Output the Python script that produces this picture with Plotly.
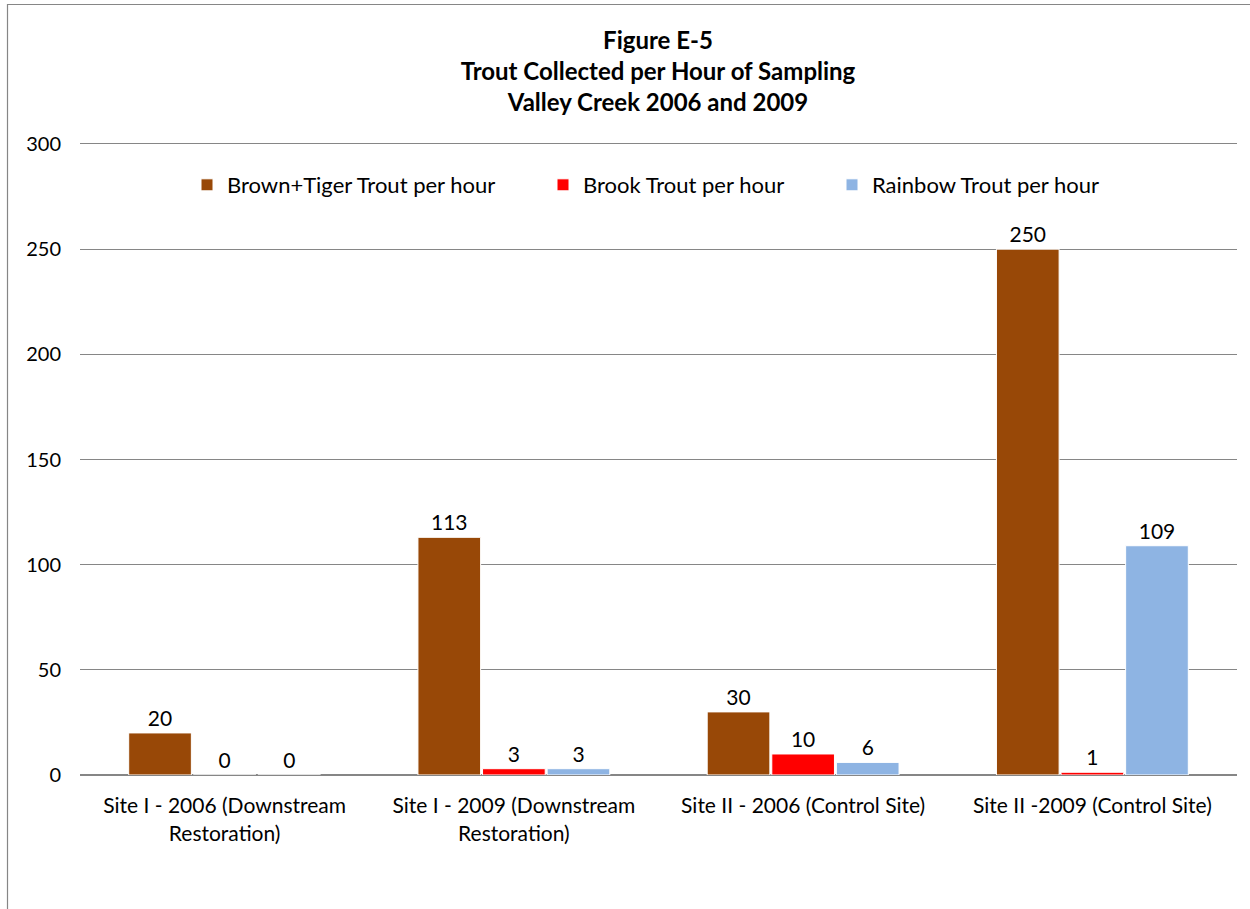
import plotly.graph_objects as go

categories = ["Site I - 2006 (Downstream<br>Restoration)",
              "Site I - 2009 (Downstream<br>Restoration)",
              "Site II - 2006 (Control Site)",
              "Site II -2009 (Control Site)"]
brown_tiger = [20, 113, 30, 250]
brook = [0, 3, 10, 1.3]
brook_labels = ["0", "3", "10", "1"]
rainbow = [0, 3, 6, 109]
rainbow_labels = ["0", "3", "6", "109"]
series_names = ["Brown+Tiger Trout per hour", "Brook Trout per hour", "Rainbow Trout per hour"]
colors = ["#984807", "#FF0000", "#8EB4E3"]

FONT = "Lato"

fig = go.Figure()
series = [(brown_tiger, [str(v) for v in brown_tiger]), (brook, brook_labels), (rainbow, rainbow_labels)]
legends = ["legend", "legend2", "legend3"]
for (vals, labels), name, col, lg in zip(series, series_names, colors, legends):
    fig.add_trace(go.Bar(
        x=categories, y=vals, name=name, text=labels,
        textposition="outside", cliponaxis=False,
        textfont=dict(family=FONT, size=21, color="#000000"),
        marker=dict(color=col, line=dict(color="white", width=1)),
        legend=lg,
    ))

legend_common = dict(orientation="h", bgcolor="rgba(0,0,0,0)",
                     font=dict(family=FONT, size=22, color="#000000"),
                     xref="paper", yref="paper", yanchor="middle",
                     itemwidth=30, tracegroupgap=0)
ly = (775 - 185) / 631
fig.update_layout(
    legend=dict(x=(187 - 80) / 1157, y=ly, xanchor="left", **legend_common),
    legend2=dict(x=(543 - 80) / 1157, y=ly, xanchor="left", **legend_common),
    legend3=dict(x=(832 - 80) / 1157, y=ly, xanchor="left", **legend_common),
)

fig.update_layout(
    width=1250, height=909,
    margin=dict(l=80, r=13, t=144, b=134),
    paper_bgcolor="white", plot_bgcolor="white",
    barmode="group", bargap=0.33, bargroupgap=0.03,
    title=dict(text="<b>Figure E-5<br>Trout Collected per Hour of Sampling<br>Valley Creek 2006 and 2009</b>",
               x=658 / 1250, xanchor="center", y=1 - 49 / 909, yanchor="top",
               font=dict(family=FONT, size=24, color="#000000")),
    font=dict(family=FONT, size=21, color="#000000"),
    showlegend=True,
    xaxis=dict(showgrid=False, showline=True, linecolor="#868686", linewidth=1, mirror=True,
               ticks="", ticklabelstandoff=12,
               tickfont=dict(family=FONT, size=21, color="#000000")),
    yaxis=dict(range=[0, 300], dtick=50, showgrid=True, gridcolor="#868686", gridwidth=1,
               zeroline=True, zerolinecolor="#868686", showline=False, ticks="",
               ticklabelstandoff=18,
               tickfont=dict(family=FONT, size=20, color="#000000")),
    shapes=[dict(type="rect", xref="paper", yref="paper",
                 x0=(7.5 - 80) / 1157, x1=1.05, y0=-0.5, y1=(775 - 4.5) / 631,
                 line=dict(color="#868686", width=1.2), fillcolor="rgba(0,0,0,0)", layer="below")],
)

fig.write_html("out.html", config={"displayModeBar": False},
               post_script="document.body.style.margin='0';")
